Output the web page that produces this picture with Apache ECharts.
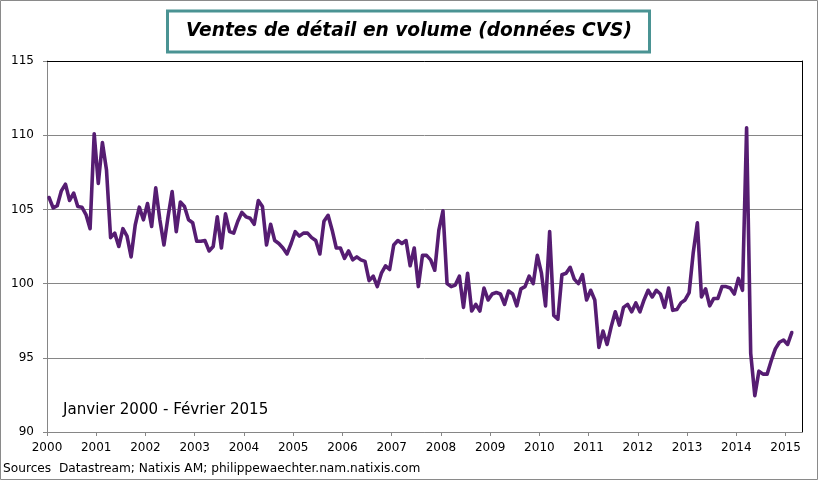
<!DOCTYPE html>
<html>
<head>
<meta charset="utf-8">
<script src="https://cdn.jsdelivr.net/npm/echarts@6/dist/echarts.min.js"></script>
<style>
html,body{margin:0;padding:0;background:#fff;}
#chart{width:818px;height:480px;}
</style>
</head>
<body>
<div id="chart"></div>
<script>
// Tick labels (years) on the x axis
const yearTicks = [2000,2001,2002,2003,2004,2005,2006,2007,2008,2009,2010,2011,2012,2013,2014,2015];
// y axis tick values
const yTicks = [90,95,100,105,110,115];
// First month of the series: January 2000 (monthly data, Jan 2000 - Feb 2015)
const startYear = 2000;
// Retail sales volume index (seasonally adjusted), monthly
const salesVolume = [
  105.8,105.1,105.25,106.25,106.7,105.6,106.1,105.2,105.15,104.65,103.7,110.1,
  106.75,109.5,107.65,103.1,103.4,102.5,103.7,103.2,101.8,103.95,105.15,104.3,
  105.4,103.85,106.45,104.3,102.6,104.5,106.2,103.5,105.5,105.2,104.3,104.1,
  102.85,102.85,102.9,102.2,102.5,104.5,102.4,104.7,103.5,103.4,104.2,104.8,
  104.5,104.4,104.0,105.6,105.2,102.6,104.0,102.9,102.7,102.4,102.0,102.7,
  103.5,103.2,103.4,103.4,103.1,102.9,102.0,104.2,104.6,103.6,102.4,102.4,
  101.7,102.2,101.6,101.8,101.6,101.5,100.2,100.5,99.8,100.7,101.2,100.95,
  102.6,102.9,102.7,102.9,101.2,102.4,99.8,101.9,101.9,101.6,100.9,103.6,
  104.9,100.0,99.8,99.9,100.5,98.4,100.7,98.15,98.6,98.15,99.7,98.9,
  99.3,99.4,99.3,98.6,99.5,99.3,98.5,99.65,99.8,100.5,100.0,101.9,
  100.7,98.5,103.5,97.85,97.6,100.6,100.7,101.1,100.3,100.0,100.6,98.9,
  99.55,98.9,95.7,96.8,95.9,97.1,98.1,97.2,98.4,98.6,98.1,98.7,
  98.1,98.9,99.55,99.1,99.55,99.3,98.4,99.7,98.2,98.25,98.7,98.9,
  99.4,102.1,104.1,99.1,99.65,98.5,99.0,99.0,99.8,99.8,99.7,99.3,
  100.35,99.55,110.5,95.3,92.45,94.1,93.9,93.9,94.8,95.6,96.05,96.2,
  95.9,96.7
];
const titleText = 'Ventes de détail en volume (données CVS)';
const periodText = 'Janvier 2000 - Février 2015';
const sourceText = 'Sources  Datastream; Natixis AM; philippewaechter.nam.natixis.com';

// each monthly observation placed at mid-month on a continuous year axis
const seriesData = salesVolume.map((v, i) => [startYear + (i + 0.5) / 12, v]);
const xMin = yearTicks[0];
const xMax = startYear + 184 / 12;

const FONT = 'DejaVu Sans';
const GRAY = '#868686';

const chart = echarts.init(document.getElementById('chart'), null, {renderer: 'canvas'});
chart.setOption({
  animation: false,
  backgroundColor: '#ffffff',
  title: [
    {
      text: titleText, left: 'center', top: 21, padding: 0,
      textStyle: {fontFamily: FONT, fontSize: 18.6, fontWeight: 'bold', fontStyle: 'italic', color: '#000', lineHeight: 20}
    },
    {
      text: periodText, left: 63, top: 402, padding: 0,
      textStyle: {fontFamily: FONT, fontSize: 15.1, fontWeight: 'normal', color: '#000', lineHeight: 16}
    },
    {
      text: sourceText, left: 3, top: 462, padding: 0,
      textStyle: {fontFamily: FONT, fontSize: 12.2, fontWeight: 'normal', color: '#000', lineHeight: 14}
    }
  ],
  graphic: [
    {type: 'rect', shape: {x: 0.5, y: 0.5, width: 817, height: 479}, style: {fill: 'none', stroke: '#8a8a8a', lineWidth: 1}, silent: true, z: 0},
    {type: 'rect', shape: {x: 167.5, y: 11, width: 482, height: 41}, style: {fill: '#fff', stroke: '#4a9393', lineWidth: 3}, silent: true, z: 0}
  ],
  grid: {left: 47, top: 61, right: 16, bottom: 48, containLabel: false},
  xAxis: [
    {
      type: 'value', min: xMin, max: xMax,
      axisLine: {show: true, lineStyle: {color: GRAY, width: 1}},
      axisTick: {show: true, customValues: yearTicks, length: 4, lineStyle: {color: GRAY}},
      axisLabel: {customValues: yearTicks, formatter: v => String(Math.round(v)), fontFamily: FONT, fontSize: 12, color: '#000', margin: 10},
      splitLine: {show: false}
    },
    {
      type: 'value', position: 'top', min: xMin, max: xMax,
      axisLine: {show: true, onZero: false, lineStyle: {color: '#000', width: 1}},
      axisTick: {show: false}, axisLabel: {show: false}, splitLine: {show: false}
    }
  ],
  yAxis: [
    {
      type: 'value', min: yTicks[0], max: yTicks[yTicks.length - 1], interval: 5,
      axisLine: {show: true, lineStyle: {color: GRAY, width: 1}},
      axisTick: {show: true, length: 4, lineStyle: {color: GRAY}},
      axisLabel: {fontFamily: FONT, fontSize: 12, color: '#000', margin: 13},
      splitLine: {show: true, lineStyle: {color: GRAY, width: 1}}
    },
    {
      type: 'value', position: 'right', min: yTicks[0], max: yTicks[yTicks.length - 1], interval: 5,
      axisLine: {show: true, onZero: false, lineStyle: {color: '#000', width: 1}},
      axisTick: {show: false}, axisLabel: {show: false}, splitLine: {show: false}
    }
  ],
  series: [{
    type: 'line',
    data: seriesData,
    xAxisIndex: 0, yAxisIndex: 0,
    showSymbol: false,
    symbol: 'none',
    lineStyle: {color: '#561d72', width: 3.6, join: 'round', cap: 'round'},
    z: 3
  }]
});
</script>
</body>
</html>
